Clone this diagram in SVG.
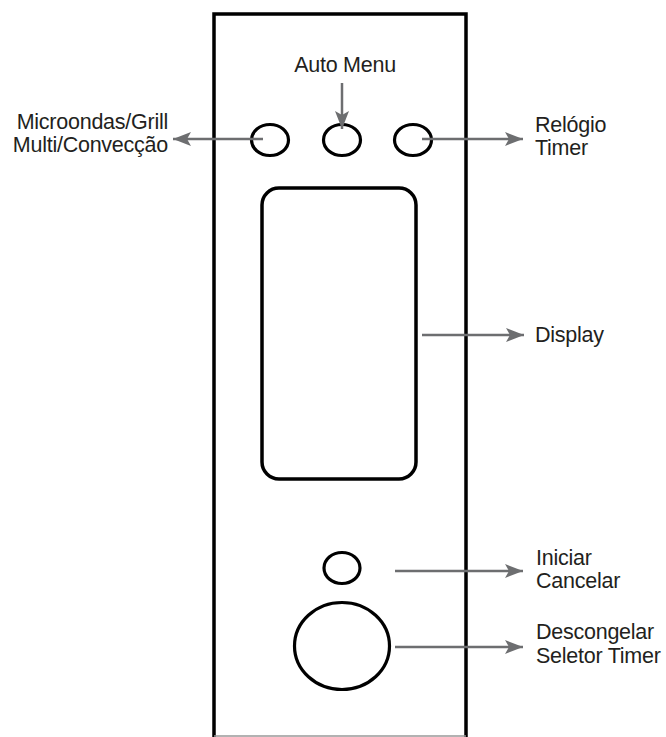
<svg xmlns="http://www.w3.org/2000/svg" width="666" height="737" viewBox="0 0 666 737">
<style>
.outline{fill:none;stroke:#000;stroke-width:3.5}
.btn{fill:none;stroke:#000;stroke-width:3.2}
.conn{fill:none;stroke:#6d6e70;stroke-width:2.5}
.lbl{font-family:"Liberation Sans",Arial,sans-serif;font-size:21.5px;fill:#231f20;letter-spacing:-0.25px}
</style>
<defs>
<marker id="ah" markerUnits="userSpaceOnUse" markerWidth="20" markerHeight="14" refX="18" refY="7" orient="auto">
<path d="M0,0 L18,7 L0,14 L4,7 Z" fill="#6d6e70"/>
</marker>
</defs>
<rect width="666" height="737" fill="#fff"/>
<g id="panel">
<path class="outline" d="M214,737 V14 H466 V737"/>
<line x1="214" y1="736" x2="466" y2="736" stroke="#999" stroke-width="1.5"/>
</g>
<g id="display-screen">
<rect class="outline" x="262" y="188" width="154" height="291" rx="17"/>
</g>
<g id="btn-mode"><ellipse class="btn" cx="270" cy="140" rx="18.5" ry="15.5"/></g>
<g id="btn-auto"><ellipse class="btn" cx="342" cy="140" rx="18.5" ry="15.5"/></g>
<g id="btn-clock"><ellipse class="btn" cx="413" cy="140" rx="18.5" ry="15.5"/></g>
<g id="btn-start"><ellipse class="btn" cx="342" cy="568" rx="18" ry="15.5"/></g>
<g id="btn-knob"><ellipse class="btn" cx="342" cy="646" rx="47.5" ry="43.5"/></g>
<g id="connectors">
<line class="conn" x1="263" y1="139" x2="173" y2="139" marker-end="url(#ah)"/>
<line class="conn" x1="342" y1="83" x2="342" y2="129" marker-end="url(#ah)"/>
<line class="conn" x1="422" y1="139" x2="523" y2="139" marker-end="url(#ah)"/>
<line class="conn" x1="422" y1="335" x2="524" y2="335" marker-end="url(#ah)"/>
<line class="conn" x1="395" y1="571" x2="523" y2="571" marker-end="url(#ah)"/>
<line class="conn" x1="395" y1="647" x2="523" y2="647" marker-end="url(#ah)"/>
</g>
<g id="labels">
<g id="label-mode"><text class="lbl" x="168" y="129" text-anchor="end">Microondas/Grill</text><text class="lbl" x="168" y="152" text-anchor="end">Multi/Convecção</text></g>
<g id="label-auto"><text class="lbl" x="345" y="72" text-anchor="middle">Auto Menu</text></g>
<g id="label-clock"><text class="lbl" x="535" y="132">Relógio</text><text class="lbl" x="535" y="155">Timer</text></g>
<g id="label-display"><text class="lbl" x="535" y="342">Display</text></g>
<g id="label-start"><text class="lbl" x="536" y="565">Iniciar</text><text class="lbl" x="536" y="588">Cancelar</text></g>
<g id="label-knob"><text class="lbl" x="536" y="639">Descongelar</text><text class="lbl" x="536" y="663">Seletor Timer</text></g>
</g>
</svg>
